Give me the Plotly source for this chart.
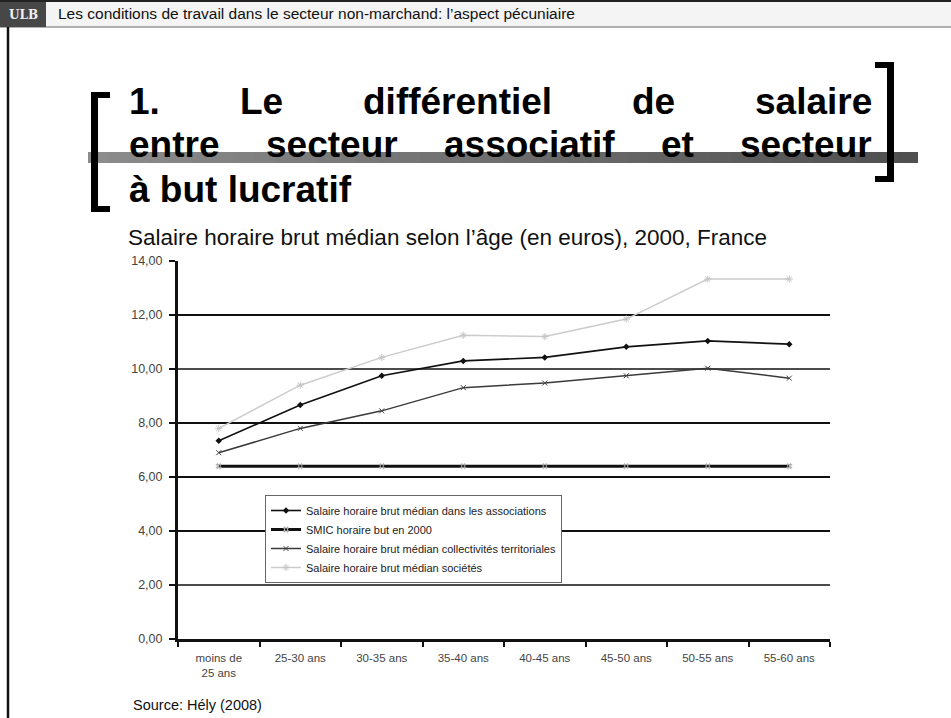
import plotly.graph_objects as go

# ---------------- data ----------------
categories = ["moins de<br>25 ans", "25-30 ans", "30-35 ans", "35-40 ans",
              "40-45 ans", "45-50 ans", "50-55 ans", "55-60 ans"]
associations = [7.34, 8.67, 9.75, 10.30, 10.43, 10.82, 11.04, 10.92]
smic = [6.40, 6.40, 6.40, 6.40, 6.40, 6.40, 6.40, 6.40]
collectivites = [6.90, 7.80, 8.45, 9.31, 9.48, 9.75, 10.03, 9.66]
societes = [7.80, 9.40, 10.43, 11.25, 11.20, 11.85, 13.33, 13.33]

names = ["Salaire horaire brut médian dans les associations",
         "SMIC horaire but en 2000",
         "Salaire horaire brut médian collectivités territoriales",
         "Salaire horaire brut médian sociétés"]
y_ticks = [0, 2, 4, 6, 8, 10, 12, 14]
grid_levels = [2, 4, 6, 8, 10, 12]
grid_widths = [1.6, 2.2, 1.8, 2.2, 1.4, 2.2]

header_text = "Les conditions de travail dans le secteur non-marchand: l’aspect pécuniaire"
title_line1 = ["1.", "Le", "différentiel", "de", "salaire"]
title_line2 = ["entre", "secteur", "associatif", "et", "secteur"]
title_line3 = "à but lucratif"
subtitle = "Salaire horaire brut médian selon l’âge (en euros), 2000, France"
source = "Source: Hély (2008)"

# ---------------- geometry helpers ----------------
W, H = 951, 718
ML, MR, MT, MB = 178, 121, 261, 79
PW, PH = W - ML - MR, H - MT - MB


def xp(x):
    return (x - ML) / PW


def yp(y):
    return (H - MB - y) / PH


fig = go.Figure()

fig.add_trace(go.Scatter(
    x=categories, y=associations, name=names[0], mode="lines+markers",
    line=dict(color="#111111", width=1.6),
    marker=dict(symbol="diamond", size=5, color="#111111")))
fig.add_trace(go.Scatter(
    x=categories, y=smic, name=names[1], mode="lines+markers",
    line=dict(color="#111111", width=3),
    marker=dict(symbol="hash-open", size=6, color="#aaaaaa", line=dict(width=1, color="#aaaaaa"))))
fig.add_trace(go.Scatter(
    x=categories, y=collectivites, name=names[2], mode="lines+markers",
    line=dict(color="#3a3a3a", width=1.5),
    marker=dict(symbol="x-thin-open", size=5, color="#444444", line=dict(width=1, color="#444444"))))
fig.add_trace(go.Scatter(
    x=categories, y=societes, name=names[3], mode="lines+markers",
    line=dict(color="#cccccc", width=1.5),
    marker=dict(symbol="asterisk-open", size=6, color="#c4c4c4", line=dict(width=1, color="#c4c4c4"))))

shapes = []
# grid lines
for lvl, w in zip(grid_levels, grid_widths):
    shapes.append(dict(type="line", xref="paper", yref="y", x0=0, x1=1, y0=lvl, y1=lvl,
                       line=dict(color="#111111", width=w), layer="below"))

# header bar
shapes.append(dict(type="rect", xref="paper", yref="paper", x0=xp(0), x1=xp(W), y0=yp(0), y1=yp(27),
                   fillcolor="#f4f4f4", line=dict(width=0)))
shapes.append(dict(type="rect", xref="paper", yref="paper", x0=xp(0), x1=xp(W), y0=yp(0), y1=yp(2),
                   fillcolor="#222222", line=dict(width=0)))
shapes.append(dict(type="line", xref="paper", yref="paper", x0=xp(0), x1=xp(W), y0=yp(27), y1=yp(27),
                   line=dict(color="#999999", width=1.5)))
shapes.append(dict(type="rect", xref="paper", yref="paper", x0=xp(0), x1=xp(46), y0=yp(2), y1=yp(27),
                   fillcolor="#474747", line=dict(width=0)))
# left page border
shapes.append(dict(type="line", xref="paper", yref="paper", x0=xp(8), x1=xp(8), y0=yp(27), y1=yp(H),
                   line=dict(color="#111111", width=2.5)))

# gradient bar (overlapping strips, drawn left to right)
n_strips = 40
x_start, x_end = 88, 918
for i in range(n_strips):
    t = i / (n_strips - 1)
    g = int(round(0x8c + (0x50 - 0x8c) * t))
    col = "#%02x%02x%02x" % (g, g, g)
    xa = x_start + (x_end - x_start) * i / n_strips
    xb = min(x_end, x_start + (x_end - x_start) * (i + 1) / n_strips + 3)
    shapes.append(dict(type="rect", xref="paper", yref="paper", x0=xp(xa), x1=xp(xb),
                       y0=yp(163), y1=yp(152), fillcolor=col, line=dict(width=0)))


def rect(x0, x1, y0, y1, col="#000000"):
    return dict(type="rect", xref="paper", yref="paper", x0=xp(x0), x1=xp(x1),
                y0=yp(y1), y1=yp(y0), fillcolor=col, line=dict(width=0))


# brackets
shapes += [rect(91, 98, 92, 212), rect(91, 110, 92, 98), rect(91, 110, 206, 212)]
shapes += [rect(887, 894, 62, 182), rect(875, 894, 62, 68), rect(875, 894, 176, 182)]

annotations = []


def add_text(text, x, y_center, size, color="#000000", bold=False, family="Arial, Liberation Sans"):
    annotations.append(dict(
        text=("<b>%s</b>" % text) if bold else text,
        xref="paper", yref="paper", x=xp(x), y=yp(y_center),
        xanchor="left", yanchor="middle", showarrow=False,
        font=dict(family=family, size=size, color=color)))


add_text(header_text, 56, 14, 15.5, color="#111111")
annotations.append(dict(text="<b>ULB</b>", xref="paper", yref="paper", x=xp(23), y=yp(15),
                        xanchor="center", yanchor="middle", showarrow=False,
                        font=dict(family="DejaVu Serif", size=12, color="#f0f0f0")))

line1_x = [127, 238, 361, 629.5, 752.7]
line2_x = [127, 263.9, 441.9, 659, 738.3]
for w, x in zip(title_line1, line1_x):
    add_text(w, x, 101, 37, bold=True)
for w, x in zip(title_line2, line2_x):
    add_text(w, x, 145, 37, bold=True)
add_text(title_line3, 127, 190, 37, bold=True)

add_text(subtitle, 126, 237, 22.5, color="#111111")
add_text(source, 131, 705, 14.5, color="#111111")

fig.update_layout(
    width=W, height=H,
    margin=dict(l=ML, r=MR, t=MT, b=MB),
    paper_bgcolor="white", plot_bgcolor="white",
    separators=", ",
    showlegend=True,
    legend=dict(x=xp(265), y=yp(495), xanchor="left", yanchor="top",
                bgcolor="white", bordercolor="#666666", borderwidth=1,
                font=dict(family="Arial, Liberation Sans", size=11, color="#222222"),
                tracegroupgap=0, itemwidth=30),
    shapes=shapes,
    annotations=annotations,
    xaxis=dict(type="category", range=[-0.5, 7.5], showgrid=False, zeroline=False,
               showline=True, linecolor="#111111", linewidth=2.5,
               ticks="outside", tickson="boundaries", ticklen=5, tickwidth=1.5, tickcolor="#111111",
               ticklabelstandoff=6,
               tickfont=dict(family="Arial, Liberation Sans", size=11.5, color="#444444")),
    yaxis=dict(range=[0, 14], tickvals=y_ticks, tickformat=".2f", showgrid=False, zeroline=False,
               showline=True, linecolor="#111111", linewidth=3,
               ticks="outside", ticklen=6, tickwidth=2, tickcolor="#111111",
               ticklabelstandoff=4,
               tickfont=dict(family="Arial, Liberation Sans", size=12.5, color="#444444")),
)

fig.write_html("out.html", config={"displayModeBar": False},
               post_script="document.body.style.margin='0px';document.body.style.overflow='hidden';")
